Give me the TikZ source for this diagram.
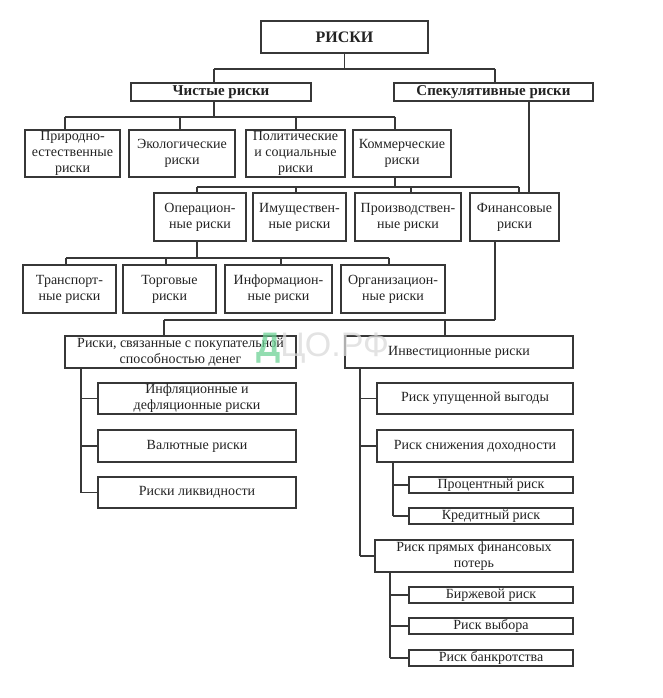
\documentclass[tikz,border=0pt]{standalone}
\usepackage{fontspec}
\setmainfont{Liberation Serif}
\newfontfamily\wmfont{Liberation Sans}
\definecolor{wmgreen}{RGB}{110,210,150}
\definecolor{lineclr}{RGB}{55,55,55}
\definecolor{txtclr}{RGB}{35,35,35}
\tikzset{
  box/.style={draw=lineclr, line width=1.2pt, align=center, inner sep=1pt,
    text=txtclr, font=\fontsize{14}{16}\selectfont},
  hbox/.style={font=\bfseries\fontsize{15}{17}\selectfont},
  topbox/.style={font=\bfseries\fontsize{16}{18}\selectfont},
  conn/.style={draw=lineclr, line width=1.2pt},
}
% \mybox[style]{name}{x1}{y1}{x2}{y2}{text}
\newcommand\mybox[7][]{%
  \node[box,#1,minimum width={(#5-#3)*1pt},minimum height={(#6-#4)*1pt}]
    (#2) at ({(#3+#5)/2},{(#4+#6)/2}) {#7};}
\begin{document}
\begin{tikzpicture}[x=1pt,y=-1pt]
\useasboundingbox (0,0) rectangle (662,698);

% level 0/1
\mybox[topbox]{risk}{261}{21}{428}{53}{РИСКИ}
\mybox[hbox]{pure}{131}{83}{311}{101}{Чистые риски}
\mybox[hbox]{spec}{394}{83}{593}{101}{Спекулятивные риски}
% level 2
\mybox{prir}{25}{130}{120}{177}{Природно-\\естественные\\риски}
\mybox{eko}{129}{130}{235}{177}{Экологические\\риски}
\mybox{pol}{246}{130}{345}{177}{Политические\\и социальные\\риски}
\mybox{kom}{353}{130}{451}{177}{Коммерческие\\риски}
% level 3
\mybox{oper}{154}{193}{246}{241}{Операцион-\\ные риски}
\mybox{imu}{253}{193}{346}{241}{Имуществен-\\ные риски}
\mybox{proiz}{355}{193}{461}{241}{Производствен-\\ные риски}
\mybox{fin}{470}{193}{559}{241}{Финансовые\\риски}
% level 4
\mybox{trans}{23}{265}{116}{313}{Транспорт-\\ные риски}
\mybox{torg}{123}{265}{216}{313}{Торговые\\риски}
\mybox{info}{225}{265}{332}{313}{Информацион-\\ные риски}
\mybox{org}{341}{265}{445}{313}{Организацион-\\ные риски}
% level 5
\mybox{pok}{65}{336}{296}{368}{Риски, связанные с покупательной\\способностью денег}
\mybox{inv}{345}{336}{573}{368}{Инвестиционные риски}
% left column
\mybox{infl}{98}{383}{296}{414}{Инфляционные и\\дефляционные риски}
\mybox{val}{98}{430}{296}{462}{Валютные риски}
\mybox{liq}{98}{477}{296}{508}{Риски ликвидности}
% right column
\mybox{upu}{377}{383}{573}{414}{Риск упущенной выгоды}
\mybox{sni}{377}{430}{573}{462}{Риск снижения доходности}
\mybox{proc}{409}{477}{573}{493}{Процентный риск}
\mybox{kred}{409}{508}{573}{524}{Кредитный риск}
\mybox{pryam}{375}{540}{573}{572}{Риск прямых финансовых\\потерь}
\mybox{birzh}{409}{587}{573}{603}{Биржевой риск}
\mybox{vyb}{409}{618}{573}{634}{Риск выбора}
\mybox{bank}{409}{650}{573}{666}{Риск банкротства}

% junction coordinates
\path (214,69) coordinate (j1) (495,69) coordinate (j2);
\path (65,117) coordinate (b1) (180,117) coordinate (b2)
      (296,117) coordinate (b3) (395,117) coordinate (b4);
\path (197,187) coordinate (c1) (296,187) coordinate (c2)
      (411,187) coordinate (c3) (519,187) coordinate (c4);
\path (66,258) coordinate (d1) (166,258) coordinate (d2)
      (281,258) coordinate (d3) (389,258) coordinate (d4);
\path (164,320) coordinate (e1) (445,320) coordinate (e2) (495,320) coordinate (e3);
\path (529,0) coordinate (sx) (81,0) coordinate (fx) (360,0) coordinate (gx)
      (393,0) coordinate (hx) (390,0) coordinate (kx);

% risk -> pure, spec
\draw[conn] (risk.south) -- (risk.south |- j1);
\draw[conn] (j1) -- (j2);
\draw[conn] (j1) -- (j1 |- pure.north);
\draw[conn] (j2) -- (j2 |- spec.north);
% pure -> level 2
\draw[conn] (j1 |- pure.south) -- (j1 |- b1);
\draw[conn] (b1) -- (b4);
\draw[conn] (b1) -- (b1 |- prir.north);
\draw[conn] (b2) -- (b2 |- eko.north);
\draw[conn] (b3) -- (b3 |- pol.north);
\draw[conn] (b4) -- (b4 |- kom.north);
% spec -> fin
\draw[conn] (sx |- spec.south) -- (sx |- fin.north);
% kom -> level 3
\draw[conn] (b4 |- kom.south) -- (b4 |- c1);
\draw[conn] (c1) -- (c4);
\draw[conn] (c1) -- (c1 |- oper.north);
\draw[conn] (c2) -- (c2 |- imu.north);
\draw[conn] (c3) -- (c3 |- proiz.north);
\draw[conn] (c4) -- (c4 |- fin.north);
% oper -> level 4
\draw[conn] (c1 |- oper.south) -- (c1 |- d1);
\draw[conn] (d1) -- (d4);
\draw[conn] (d1) -- (d1 |- trans.north);
\draw[conn] (d2) -- (d2 |- torg.north);
\draw[conn] (d3) -- (d3 |- info.north);
\draw[conn] (d4) -- (d4 |- org.north);
% fin -> level 5
\draw[conn] (e3 |- fin.south) -- (e3);
\draw[conn] (e1) -- (e3);
\draw[conn] (e1) -- (e1 |- pok.north);
\draw[conn] (e2) -- (e2 |- inv.north);
% left column
\draw[conn] (fx |- pok.south) -- (fx |- liq.west);
\draw[conn] (fx |- infl.west) -- (infl.west);
\draw[conn] (fx |- val.west) -- (val.west);
\draw[conn] (fx |- liq.west) -- (liq.west);
% right column
\draw[conn] (gx |- inv.south) -- (gx |- pryam.west);
\draw[conn] (gx |- upu.west) -- (upu.west);
\draw[conn] (gx |- sni.west) -- (sni.west);
\draw[conn] (gx |- pryam.west) -- (pryam.west);
\draw[conn] (hx |- sni.south) -- (hx |- kred.west);
\draw[conn] (hx |- proc.west) -- (proc.west);
\draw[conn] (hx |- kred.west) -- (kred.west);
\draw[conn] (kx |- pryam.south) -- (kx |- bank.west);
\draw[conn] (kx |- birzh.west) -- (birzh.west);
\draw[conn] (kx |- vyb.west) -- (vyb.west);
\draw[conn] (kx |- bank.west) -- (bank.west);

% watermark
\node[anchor=base west, inner sep=0, opacity=0.75,
      font=\wmfont\fontsize{34}{34}\selectfont] (wm) at (256,356)
  {\textcolor{wmgreen}{\bfseries Д}\textcolor{black!15}{ЦО.РФ}};
\end{tikzpicture}
\end{document}
